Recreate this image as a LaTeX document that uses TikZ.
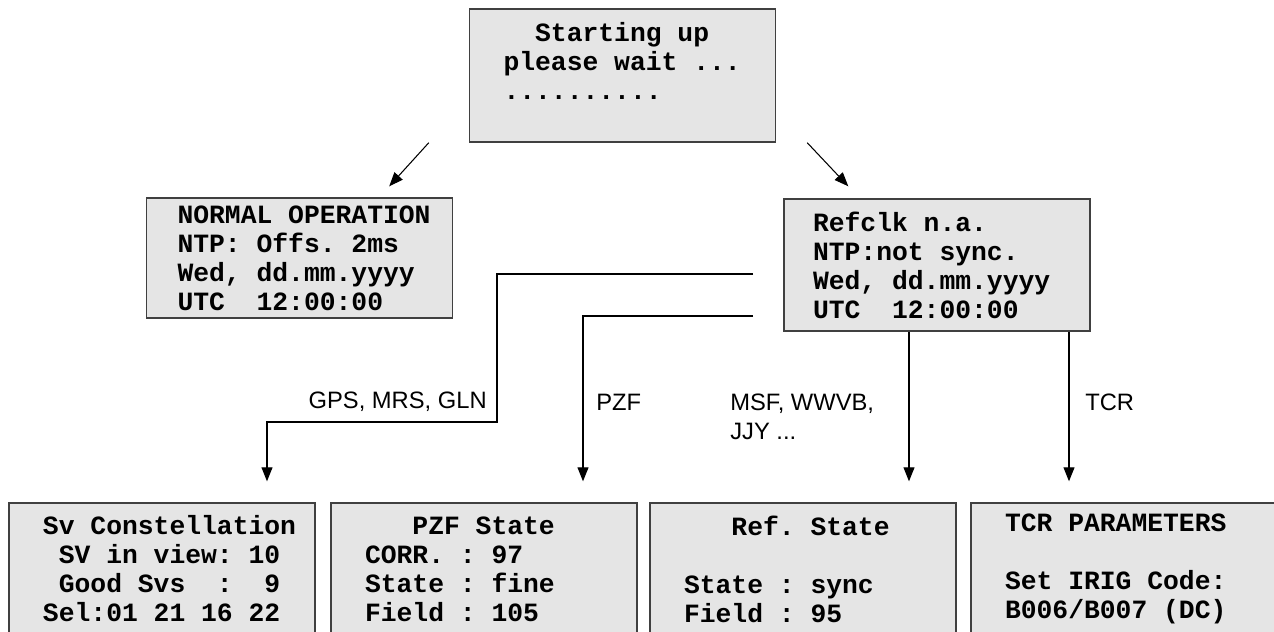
\documentclass[tikz,border=0pt]{standalone}
\usepackage{fontspec}
\setmainfont{Liberation Sans}
\newfontfamily\lcdfont{Liberation Mono}[HyphenChar=None]
\usetikzlibrary{arrows.meta,calc}

% fixed-width display font, spaces one character wide
\newcommand{\lcdtext}{\lcdfont\bfseries\fontsize{15}{16.5}\selectfont\frenchspacing
	\fontdimen2\font=0.6em\relax\fontdimen3\font=0pt\relax\fontdimen4\font=0pt\relax}

\tikzset{
	lcd/.style={draw=black!75, line width=0.8pt, fill=gray!20, text width=4.76cm, inner xsep=0.68cm, inner ysep=0pt, align=flush left, font=\lcdtext},
	arr/.style={-{Triangle[length=0.28cm,width=0.22cm]}, line width=0.6pt},
	lbl/.style={font=\fontsize{13.5}{16.4}\selectfont, inner sep=0pt, align=left},
}

\begin{document}
\begin{tikzpicture}
			\useasboundingbox (0,0) rectangle (25.48,12.64);
			\clip (0,0) rectangle (25.48,12.64);

			% Display at start-up
			\node[lcd, minimum height=2.66cm] (start) at (12.45,11.13) {~~Starting~up\\please~wait~...\\..........\\~};

			% Displays after start-up
			\node[lcd, minimum height=2.40cm, text width=4.88cm, inner xsep=0.62cm] (normal) at (5.99,7.48) {NORMAL~OPERATION\\NTP:~Offs.~2ms\\Wed,~dd.mm.yyyy\\UTC~~12:00:00};
			\node[lcd, minimum height=2.64cm, text width=4.96cm, inner xsep=0.58cm] (refclk) at (18.74,7.34) {Refclk~n.a.\\NTP:not~sync.\\Wed,~dd.mm.yyyy\\UTC~~12:00:00};

			% Receiver state displays
			\node[lcd, minimum height=2.64cm] (sv) at (3.24,1.26) {Sv~Constellation\\~SV~in~view:~10\\~Good~Svs~~:~~9\\Sel:01~21~16~22};
			\node[lcd, minimum height=2.64cm] (pzf) at (9.68,1.26) {~~~PZF~State\\CORR.~:~97\\State~:~fine\\Field~:~105};
			\node[lcd, minimum height=2.64cm] (refst) at (16.06,1.26) {~~~Ref.~State\\~\\State~:~sync\\Field~:~95};
			\node[lcd, minimum height=2.64cm] (tcr) at (22.48,1.26) {TCR~PARAMETERS\\~\\Set~IRIG~Code:\\B006/B007~(DC)};

			% Receiver labels
			\node[lbl, anchor=east] (gpslbl) at (9.74,4.60) {GPS, MRS, GLN};
			\node[lbl, anchor=west] (pzflbl) at (11.92,4.60) {PZF};
			\node[lbl, anchor=west] (msflbl) at (14.60,4.31) {MSF, WWVB,\\JJY ...};
			\node[lbl, anchor=west] (tcrlbl) at (21.70,4.60) {TCR};

			% Branch points
			\coordinate (gpsout) at (15.06,7.16);
			\coordinate (pzfout) at (15.06,6.32);
			\coordinate (gpsx) at (5.34,0);
			\coordinate (pzfx) at (11.66,0);
			\coordinate (msfx) at (18.18,0);
			\coordinate (tcrx) at (21.38,0);

			% Draw arrows from start-up
			\draw[arr] ([xshift=-0.80cm]start.south west) -- ([xshift=-1.28cm,yshift=0.22cm]normal.north east);
			\draw[arr] ([xshift=0.62cm]start.south east) -- ([xshift=1.30cm,yshift=0.24cm]refclk.north west);

			% Draw arrows to receiver states
			\draw[arr, shorten >=0.42cm] (gpsout) -- (9.94,7.16) -- (9.94,4.20) -- (gpsx |- 0,4.20) -- (gpsx |- sv.north);
			\draw[arr, shorten >=0.42cm] (pzfout) -- (pzfx |- pzfout) -- (pzfx |- pzf.north);
			\draw[arr, shorten >=0.42cm] (refclk.south -| msfx) -- (msfx |- refst.north);
			\draw[arr, shorten >=0.42cm] (refclk.south -| tcrx) -- (tcrx |- tcr.north);
		\end{tikzpicture}
\end{document}
